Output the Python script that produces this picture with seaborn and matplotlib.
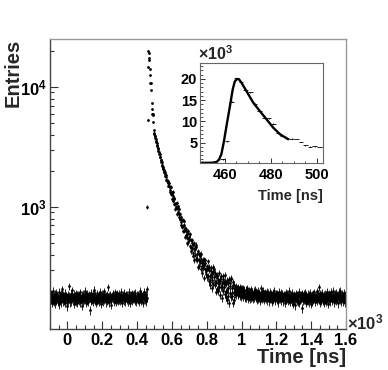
import numpy as np
import pandas as pd
import matplotlib
matplotlib.use("Agg")
import matplotlib.pyplot as plt
import seaborn as sns
from matplotlib.ticker import MultipleLocator, FuncFormatter, NullFormatter, FixedLocator

# Entries per 2 ns bin
# flat part before the pulse, -100 ns .. 458 ns
baseline_counts = [
    181, 168, 190, 172, 159, 177, 186, 164, 171, 199, 176, 162, 183, 170, 188, 157, 174, 193, 166, 179,
    172, 185, 161, 178, 196, 169, 154, 182, 175, 167, 189, 173, 160, 184, 178, 205, 171, 163, 187, 176,
    165, 180, 174, 192, 158, 171, 183, 169, 177, 148, 186, 175, 164, 218, 172, 181, 160, 178, 170, 189,
    176, 163, 184, 171, 202, 167, 179, 155, 188, 174, 166, 182, 173, 191, 161, 177, 185, 169, 158, 180,
    187, 172, 165, 179, 183, 160, 176, 194, 168, 175, 150, 184, 171, 163, 189, 178, 167, 182, 174, 199,
    170, 181, 159, 176, 185, 172, 166, 190, 179, 162, 177, 186, 173, 138, 183, 175, 169, 193, 164, 180,
    178, 167, 188, 174, 161, 182, 171, 203, 166, 179, 185, 158, 176, 170, 191, 164, 180, 173, 168, 186,
    161, 177, 184, 170, 195, 173, 156, 181, 176, 167, 189, 172, 184, 163, 178, 198, 169, 175, 182, 160,
    183, 171, 176, 164, 187, 179, 168, 214, 174, 160, 181, 177, 170, 185, 166, 178, 152, 183, 175, 189,
    174, 186, 162, 179, 171, 194, 167, 180, 173, 185, 161, 176, 190, 169, 177, 164, 182, 172, 188, 168,
    177, 165, 183, 172, 196, 169, 179, 158, 186, 174, 181, 166, 175, 192, 163, 178, 170, 187, 174, 181,
    169, 184, 176, 163, 180, 175, 197, 168, 182, 171, 159, 186, 177, 173, 190, 165, 179, 184, 171, 176,
    188, 172, 180, 166, 177, 193, 170, 161, 184, 175, 179, 168, 187, 174, 162, 181, 176, 199, 170, 183,
    175, 164, 189, 177, 170, 182, 158, 186, 173, 179, 195, 168, 176, 184, 171, 163, 188, 174, 205,
]
# pulse, 458 ns .. 500 ns
peak_counts = [1000, 5300, 14600, 20100, 19200, 17300, 16800, 14100, 12500, 10800, 10700,
               9400, 7300, 6500, 5950, 5900, 5850, 5150, 4350, 4050, 4100]
# tail, 500 ns .. 1600 ns
decay_counts = [
    3921, 3874, 3729, 3690, 3536, 3448, 3402, 3251, 3214, 3082,
    3058, 2921, 2880, 2772, 2749, 2631, 2590, 2478, 2462, 2365,
    2349, 2246, 2214, 2117, 2131, 2052, 2041, 1952, 1958, 1889,
    1947, 1811, 1688, 1792, 1856, 1637, 1663, 1499, 1651, 1587,
    1498, 1594, 1487, 1320, 1394, 1457, 1472, 1278, 1300, 1329,
    1282, 1169, 1339, 1239, 1122, 1056, 1162, 1185, 1059, 957,
    980, 1076, 1007, 1078, 865, 978, 906, 979, 1012, 831,
    964, 869, 793, 800, 872, 704, 818, 753, 683, 784,
    775, 699, 632, 707, 758, 628, 654, 559, 666, 634,
    583, 656, 596, 498, 555, 606, 625, 508, 531, 559,
    535, 470, 589, 532, 464, 428, 505, 526, 452, 392,
    410, 483, 443, 499, 360, 444, 401, 456, 485, 368,
    465, 405, 360, 371, 428, 317, 403, 363, 321, 397,
    397, 348, 305, 365, 406, 319, 342, 279, 360, 341,
    308, 366, 325, 255, 301, 342, 359, 276, 296, 319,
    305, 259, 351, 311, 263, 239, 298, 318, 264, 222,
    238, 295, 267, 312, 209, 274, 244, 289, 314, 226,
    303, 258, 224, 235, 282, 197, 266, 236, 205, 266,
    269, 232, 199, 248, 283, 214, 234, 185, 252, 239,
    214, 263, 231, 175, 214, 250, 266, 198, 216, 237,
    227, 189, 269, 235, 195, 177, 229, 246, 201, 167,
    181, 233, 209, 249, 158, 218, 192, 233, 255, 179,
    251, 211, 181, 191, 235, 158, 222, 196, 168, 225,
    211, 189, 205, 219, 194, 183, 208, 200, 215, 187,
    184, 206, 199, 190, 214, 181, 203, 196, 178, 209,
    200, 186, 207, 179, 195, 211, 184, 190, 203, 176,
    182, 198, 204, 175, 193, 187, 209, 180, 196, 171,
    194, 179, 201, 188, 172, 197, 183, 206, 176, 190,
    178, 195, 183, 170, 199, 187, 176, 204, 181, 192,
    189, 174, 197, 181, 168, 193, 186, 201, 172, 184,
    177, 193, 185, 164, 188, 210, 175, 181, 196, 170,
    186, 173, 199, 179, 167, 190, 183, 176, 194, 181,
    171, 188, 182, 197, 166, 178, 192, 174, 185, 163,
    183, 196, 170, 181, 175, 189, 162, 186, 178, 193,
    174, 168, 187, 181, 199, 172, 179, 165, 190, 184,
    180, 191, 169, 176, 186, 160, 182, 195, 173, 179,
    185, 170, 178, 192, 166, 181, 174, 188, 163, 183,
    171, 187, 179, 158, 184, 176, 193, 169, 180, 174,
    190, 172, 165, 183, 178, 199, 168, 175, 186, 161,
    177, 184, 170, 192, 163, 181, 175, 156, 183, 179,
    168, 187, 174, 180, 151, 176, 191, 171, 184, 166,
    179, 162, 185, 173, 196, 158, 177, 169, 182, 174,
    186, 170, 143, 178, 190, 165, 181, 174, 188, 168,
    175, 183, 167, 192, 171, 159, 186, 178, 164, 180,
    189, 166, 177, 184, 160, 175, 193, 170, 181, 156,
    173, 185, 178, 163, 190, 172, 167, 183, 176, 194,
    161, 179, 186, 170, 175, 198, 165, 181, 172, 188,
    177, 214, 169, 183, 158, 176, 190, 174, 166, 185,
    180, 171, 193, 164, 178, 186, 159, 175, 189, 168,
    174, 187, 162, 181, 176, 197, 170, 155, 184, 179,
    190, 168, 177, 185, 163, 174, 195, 180, 171, 182,
    166, 178, 201, 173, 184, 160, 176, 188, 169, 181,
    175, 192, 164, 179, 186, 171, 157, 183, 196, 172,
    185, 167, 178, 199, 170, 182, 163, 176, 190, 174,
    162, 183, 176, 192, 168, 179, 187, 160, 181, 175,
]

# fitted pulse shape in the inset (x10^3 entries)
fit_time = [449, 452, 455, 456.5, 457.5, 458.5, 459.5, 460.7, 462.2, 463.4, 464.3,
            465.3, 466.2, 467.2, 469.4, 472.3, 475.2, 478.1, 481.0, 483.9, 487.5]
fit_kentries = [0.2, 0.2, 0.25, 0.45, 1.0, 2.3, 5.0, 8.9, 13.6, 17.5, 19.4,
                20.0, 19.85, 19.1, 17.1, 14.4, 12.4, 10.46, 8.5, 6.95, 5.77]

# bin centres, 2 ns wide
baseline_time = -99 + 2 * np.arange(len(baseline_counts))
peak_time = 459 + 2 * np.arange(len(peak_counts))
decay_time = 501 + 2 * np.arange(len(decay_counts))

df = pd.DataFrame({
    "time": np.concatenate([baseline_time, peak_time, decay_time]),
    "entries": np.concatenate([baseline_counts, peak_counts, decay_counts]).astype(float),
})
df["err"] = np.sqrt(df["entries"])
df["time_k"] = df["time"] / 1000.0

sns.set_style("ticks")
plt.rcParams["font.family"] = ["Liberation Sans", "DejaVu Sans"]
plt.rcParams["font.weight"] = "bold"
plt.rcParams["mathtext.fontset"] = "custom"
plt.rcParams["mathtext.rm"] = "Liberation Sans:bold"
plt.rcParams["mathtext.bf"] = "Liberation Sans:bold"
plt.rcParams["mathtext.it"] = "Liberation Sans:bold"
plt.rcParams["mathtext.default"] = "rm"

W, H = 388, 370
fig = plt.figure(figsize=(W / 100, H / 100), dpi=100)
fig.patch.set_facecolor("white")

# main histogram
ax = fig.add_axes([50 / W, 1 - 329 / H, 296 / W, 290 / H])
ax.errorbar(df["time_k"], df["entries"], yerr=df["err"], fmt="none",
            ecolor="black", elinewidth=0.6)
sns.scatterplot(data=df, x="time_k", y="entries", ax=ax, s=4, color="black",
                linewidth=0, legend=False)
ax.set_yscale("log")
ax.set_xlim(-0.1, 1.6)
ax.set_ylim(96, 25100)

ax.xaxis.set_major_locator(FixedLocator([0, 0.2, 0.4, 0.6, 0.8, 1.0, 1.2, 1.4, 1.6]))
ax.xaxis.set_minor_locator(MultipleLocator(0.05))
ax.xaxis.set_major_formatter(FuncFormatter(lambda v, p: f"{round(v, 1):g}"))
ax.yaxis.set_major_locator(FixedLocator([1e3, 1e4]))
ax.yaxis.set_minor_locator(FixedLocator([m * d for d in (100, 1000) for m in range(2, 10)] + [20000]))
ax.yaxis.set_major_formatter(FuncFormatter(lambda v, p: f"$10^{{{int(round(np.log10(v)))}}}$"))
ax.yaxis.set_minor_formatter(NullFormatter())

ax.tick_params(which="major", direction="in", length=5.8, width=0.8, colors="#333333",
               labelcolor="black", labelsize=12, top=False, right=False)
ax.tick_params(which="minor", direction="in", length=2.9, width=0.8, colors="#333333",
               top=False, right=False)
ax.tick_params(axis="x", which="major", pad=3)
ax.tick_params(axis="y", which="major", pad=2)
for side in ["left", "bottom"]:
    ax.spines[side].set_color("#444444")
    ax.spines[side].set_linewidth(1.0)
for side in ["top", "right"]:
    ax.spines[side].set_color("#999999")
    ax.spines[side].set_linewidth(1.0)

ax.set_xlabel("Time [ns]", fontsize=14.5, fontweight="bold", loc="right", labelpad=0)
ax.set_ylabel("Entries", fontsize=14.5, fontweight="bold", loc="top")
ax.yaxis.set_label_coords(-0.092, 1.0)
ax.text(1.003, 0.0, r"$\times10^{3}$", transform=ax.transAxes, fontsize=12,
        ha="left", va="baseline")

# inset, zoom on the pulse
axin = fig.add_axes([200 / W, 1 - 163 / H, 123 / W, 100 / H])
axin.set_facecolor("white")
sub = df[(df["time"] >= 447) & (df["time"] <= 505)]
axin.errorbar(sub["time"], sub["entries"] / 1000, xerr=1, yerr=sub["err"] / 1000,
              fmt="none", ecolor="black", elinewidth=0.6)
sns.lineplot(x=fit_time, y=fit_kentries, ax=axin, color="black", linewidth=1.7)
axin.set_xlim(449.2, 502.6)
axin.set_ylim(0.17, 23.75)
axin.xaxis.set_major_locator(FixedLocator([460, 480, 500]))
axin.xaxis.set_minor_locator(MultipleLocator(5))
axin.yaxis.set_major_locator(FixedLocator([5, 10, 15, 20]))
axin.yaxis.set_minor_locator(MultipleLocator(1))
axin.tick_params(which="major", direction="in", length=3.6, width=0.7, colors="#333333",
                 labelcolor="black", labelsize=10.5, top=False, right=False)
axin.tick_params(which="minor", direction="in", length=1.8, width=0.6, colors="#333333",
                 top=False, right=False)
axin.tick_params(axis="x", which="major", pad=3.5)
axin.tick_params(axis="y", which="major", pad=2)
for side in axin.spines:
    axin.spines[side].set_color("#666666")
    axin.spines[side].set_linewidth(0.8)
axin.set_xlabel("Time [ns]", fontsize=10.5, fontweight="bold", loc="right", labelpad=5)
axin.set_ylabel("")
axin.text(-0.02, 1.0, r"$\times10^{3}$", transform=axin.transAxes, fontsize=11.5,
          ha="left", va="bottom")

fig.savefig("out.png", dpi=100)
